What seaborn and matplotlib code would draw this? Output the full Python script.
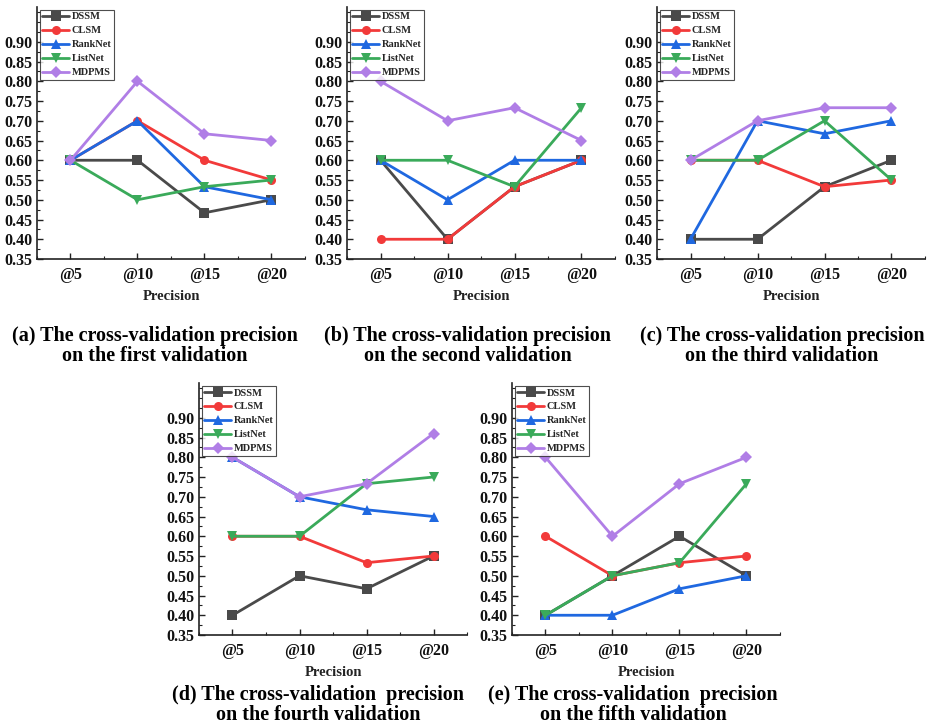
import matplotlib
matplotlib.use("Agg")
import matplotlib.pyplot as plt
import seaborn as sns
import pandas as pd
from matplotlib.ticker import MultipleLocator, FormatStrFormatter

sns.set_theme(style="white")
plt.rcParams['font.family'] = ['Liberation Serif', 'DejaVu Serif']
plt.rcParams['font.weight'] = 'bold'

methods = ["DSSM", "CLSM", "RankNet", "ListNet", "MDPMS"]
cutoffs = ["@5", "@10", "@15", "@20"]

# values per validation fold, one list per method
fold1 = {"DSSM": [0.600, 0.600, 0.467, 0.500],
         "CLSM": [0.600, 0.700, 0.600, 0.550],
         "RankNet": [0.600, 0.700, 0.533, 0.500],
         "ListNet": [0.600, 0.500, 0.533, 0.550],
         "MDPMS": [0.600, 0.800, 0.667, 0.650]}
fold2 = {"DSSM": [0.600, 0.400, 0.533, 0.600],
         "CLSM": [0.400, 0.400, 0.533, 0.600],
         "RankNet": [0.600, 0.500, 0.600, 0.600],
         "ListNet": [0.600, 0.600, 0.533, 0.733],
         "MDPMS": [0.800, 0.700, 0.733, 0.650]}
fold3 = {"DSSM": [0.400, 0.400, 0.533, 0.600],
         "CLSM": [0.600, 0.600, 0.533, 0.550],
         "RankNet": [0.400, 0.700, 0.667, 0.700],
         "ListNet": [0.600, 0.600, 0.700, 0.550],
         "MDPMS": [0.600, 0.700, 0.733, 0.733]}
fold4 = {"DSSM": [0.400, 0.500, 0.467, 0.550],
         "CLSM": [0.600, 0.600, 0.533, 0.550],
         "RankNet": [0.800, 0.700, 0.667, 0.650],
         "ListNet": [0.600, 0.600, 0.733, 0.750],
         "MDPMS": [0.800, 0.700, 0.733, 0.860]}
fold5 = {"DSSM": [0.400, 0.500, 0.600, 0.500],
         "CLSM": [0.600, 0.500, 0.533, 0.550],
         "RankNet": [0.400, 0.400, 0.467, 0.500],
         "ListNet": [0.400, 0.500, 0.533, 0.733],
         "MDPMS": [0.800, 0.600, 0.733, 0.800]}

captions = ["(a) The cross-validation precision\non the first validation",
            "(b) The cross-validation precision\non the second validation",
            "(c) The cross-validation precision\non the third validation",
            "(d) The cross-validation  precision\non the fourth validation",
            "(e) The cross-validation  precision\non the fifth validation"]
folds = [fold1, fold2, fold3, fold4, fold5]

palette = {"DSSM": "#4a4a4a", "CLSM": "#f23a3a", "RankNet": "#1f68e0",
           "ListNet": "#3aaa5a", "MDPMS": "#b07ee6"}
markers = {"DSSM": "s", "CLSM": "o", "RankNet": "^", "ListNet": "v", "MDPMS": "D"}

W, H = 929, 728
# axes boxes in pixels: left, top, right, bottom
boxes = [(37, 7, 305, 259), (347, 7, 615, 259), (657, 7, 925, 259),
         (199, 383, 467, 635), (512, 383, 780, 635)]
text_y = [(336, 297), (336, 297), (336, 297), (695, 672), (695, 672)]
caps_cx = [155, 468, 782, 318, 633]

fig = plt.figure(figsize=(W / 100, H / 100), dpi=100)
for i, (fold, box, captxt) in enumerate(zip(folds, boxes, captions)):
    l, t, r, b = box
    ax = fig.add_axes([l / W, 1 - b / H, (r - l) / W, (b - t) / H])
    rows = []
    for m in methods:
        for c, v in zip(cutoffs, fold[m]):
            rows.append({"cutoff": c, "value": v, "method": m})
    df = pd.DataFrame(rows)
    sns.lineplot(data=df, x="cutoff", y="value", hue="method", style="method",
                 hue_order=methods, style_order=methods, palette=palette,
                 markers=markers, dashes=False, linewidth=2.0, markersize=6.5,
                 markeredgewidth=0, ax=ax, sort=False)
    ax.set_xlim(-0.5, 3.5)
    ax.set_ylim(0.35, 0.988)
    ax.set_yticks([0.35 + 0.05 * k for k in range(12)])
    ax.yaxis.set_major_formatter(FormatStrFormatter("%.2f"))
    ax.yaxis.set_minor_locator(MultipleLocator(0.025))
    ax.set_xticks(range(len(cutoffs)))
    ax.set_xticks([k + 0.5 for k in range(-1, 4)], minor=True)
    ax.set_xticklabels(cutoffs)
    for s in ["top", "right"]:
        ax.spines[s].set_visible(False)
    for s in ["left", "bottom"]:
        ax.spines[s].set_color("#222222")
        ax.spines[s].set_linewidth(1.2)
    ax.tick_params(axis="both", which="major", direction="in", length=4,
                   width=1.0, colors="#222222", labelsize=11.5, pad=3,
                   left=True, bottom=True)
    ax.tick_params(axis="x", which="major", pad=6)
    ax.tick_params(axis="both", which="minor", direction="in", length=2,
                   width=0.8, colors="#222222", left=True, bottom=True)
    for lab in ax.get_xticklabels() + ax.get_yticklabels():
        lab.set_fontweight("bold")
        lab.set_color("#111111")
    ax.set_xlabel("")
    ax.set_ylabel("")
    handles, labels = ax.get_legend_handles_labels()
    leg = ax.legend(handles, labels, loc="upper left", frameon=True,
                    prop={"family": "Liberation Serif", "weight": "bold", "size": 7.5},
                    handlelength=2.6, handletextpad=0.25, labelspacing=0.45,
                    borderpad=0.25, borderaxespad=0.25, fancybox=False)
    leg.get_frame().set_edgecolor("#222222")
    leg.get_frame().set_linewidth(0.8)
    cx = (l + r) / 2
    cap_y, lab_y = text_y[i]
    fig.text(cx / W, 1 - lab_y / H, "Precision", ha="center", va="center",
             fontsize=10.5, fontweight="bold", color="#222222")
    lines = captxt.split("\n")
    fig.text(caps_cx[i] / W, 1 - cap_y / H, lines[0], ha="center", va="center",
             fontsize=14.5, fontweight="bold", color="black")
    fig.text(caps_cx[i] / W, 1 - (cap_y + 20) / H, lines[1], ha="center", va="center",
             fontsize=14.5, fontweight="bold", color="black")

fig.savefig("out.png", dpi=100, facecolor="white")
